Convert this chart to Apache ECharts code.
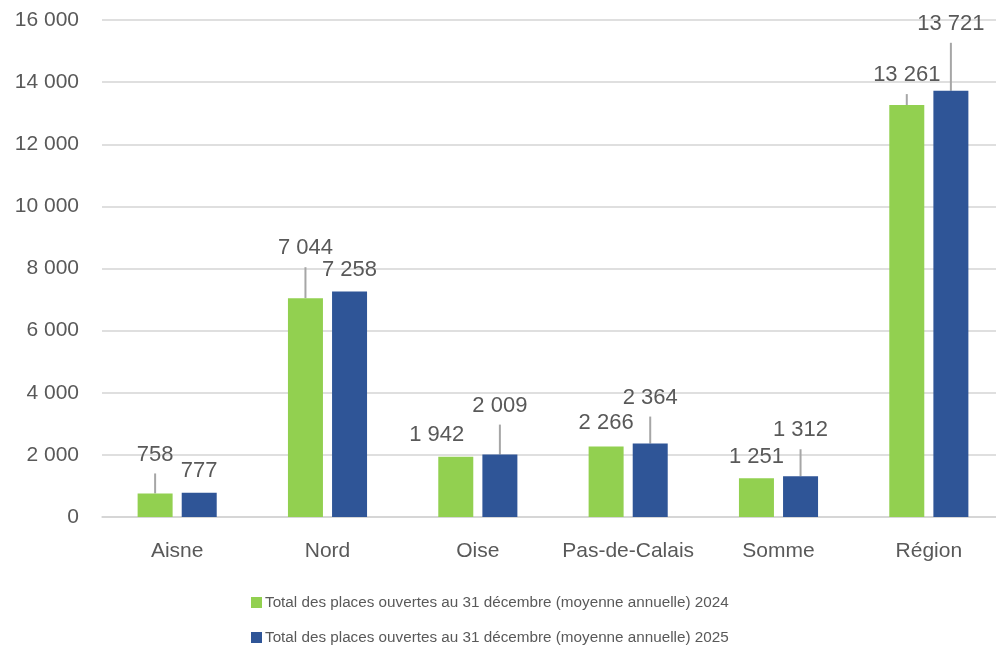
<!DOCTYPE html>
<html>
<head>
<meta charset="utf-8">
<script src="https://cdn.jsdelivr.net/npm/echarts@6/dist/echarts.min.js"></script>
<style>
  html, body { margin: 0; padding: 0; background: #fff; }
  #chart { width: 996px; height: 646px; }
</style>
</head>
<body>
<div id="chart"></div>
<script>
// Departments of Hauts-de-France plus the regional total
const categories = ['Aisne', 'Nord', 'Oise', 'Pas-de-Calais', 'Somme', 'Région'];
const seriesNames = [
  'Total des places ouvertes au 31 décembre (moyenne annuelle) 2024',
  'Total des places ouvertes au 31 décembre (moyenne annuelle) 2025'
];
const values2024 = [758, 7044, 1942, 2266, 1251, 13261];
const values2025 = [777, 7258, 2009, 2364, 1312, 13721];
const yTicks = { min: 0, max: 16000, interval: 2000 };

// Hand-placed value labels: shift [dx, dy] from the default "top" spot, and whether a leader line is drawn
const labelShift2024 = [[0, -15], [0, -26], [-19, 2], [0, 0], [0, 3], [0, -6]];
const leader2024 = [true, true, false, false, false, true];
const labelShift2025 = [[0, 2], [0, 2], [0, -25], [0, -22], [0, -22], [0, -43]];
const leader2025 = [false, false, true, true, true, true];

const FONT = 'Liberation Sans';
const TEXT = '#595959';
const GRID = '#D4D4D4';
const COLORS = ['#92D050', '#2F5597'];

function fmt(v) {
  return String(v).replace(/\B(?=(\d{3})+(?!\d))/g, ' ');
}

function buildData(values, leaders) {
  return values.map((v, i) => ({
    value: v,
    labelLine: { show: leaders[i] }
  }));
}

const shifts = [labelShift2024, labelShift2025];

function legendFor(name, top) {
  return {
    orient: 'horizontal',
    left: 246,
    top: top,
    itemWidth: 11,
    itemHeight: 11,
    icon: 'rect',
    textStyle: { color: TEXT, fontSize: 15.25, fontFamily: FONT, padding: [0, 0, 0, -2] },
    data: [name]
  };
}

function barSeries(idx, values, leaders) {
  return {
    name: seriesNames[idx],
    type: 'bar',
    barWidth: 35,
    barGap: '26%',
    data: buildData(values, leaders),
    itemStyle: { color: COLORS[idx] },
    label: {
      show: true, position: 'top', distance: 5,
      lineHeight: 38,
      color: TEXT, fontSize: 22, fontFamily: FONT,
      formatter: p => fmt(p.value)
    },
    labelLine: { lineStyle: { color: '#A6A6A6', width: 2 } }
  };
}

const chart = echarts.init(document.getElementById('chart'), null, { renderer: 'canvas' });
chart.setOption({
  animation: false,
  backgroundColor: '#ffffff',
  textStyle: { fontFamily: FONT },
  // plot area runs slightly past the right edge of the canvas
  grid: { left: 102, width: 902, top: 20, bottom: 129, containLabel: false, outerBoundsMode: 'none' },
  legend: [legendFor(seriesNames[0], 590), legendFor(seriesNames[1], 625)],
  xAxis: {
    type: 'category',
    data: categories,
    axisTick: { show: false },
    axisLine: { show: true, lineStyle: { color: GRID, width: 1.5 } },
    axisLabel: { color: TEXT, fontSize: 21, fontFamily: FONT, margin: 24, interval: 0 }
  },
  yAxis: {
    type: 'value',
    min: yTicks.min,
    max: yTicks.max,
    interval: yTicks.interval,
    axisLine: { show: false },
    axisTick: { show: false },
    splitLine: { lineStyle: { color: GRID, width: 1.5 } },
    axisLabel: { color: TEXT, fontSize: 21, fontFamily: FONT, margin: 23, formatter: fmt }
  },
  labelLayout: function (params) {
    const s = shifts[params.seriesIndex][params.dataIndex];
    return { dx: s[0], dy: s[1] };
  },
  series: [
    barSeries(0, values2024, leader2024),
    barSeries(1, values2025, leader2025)
  ]
});
</script>
</body>
</html>
